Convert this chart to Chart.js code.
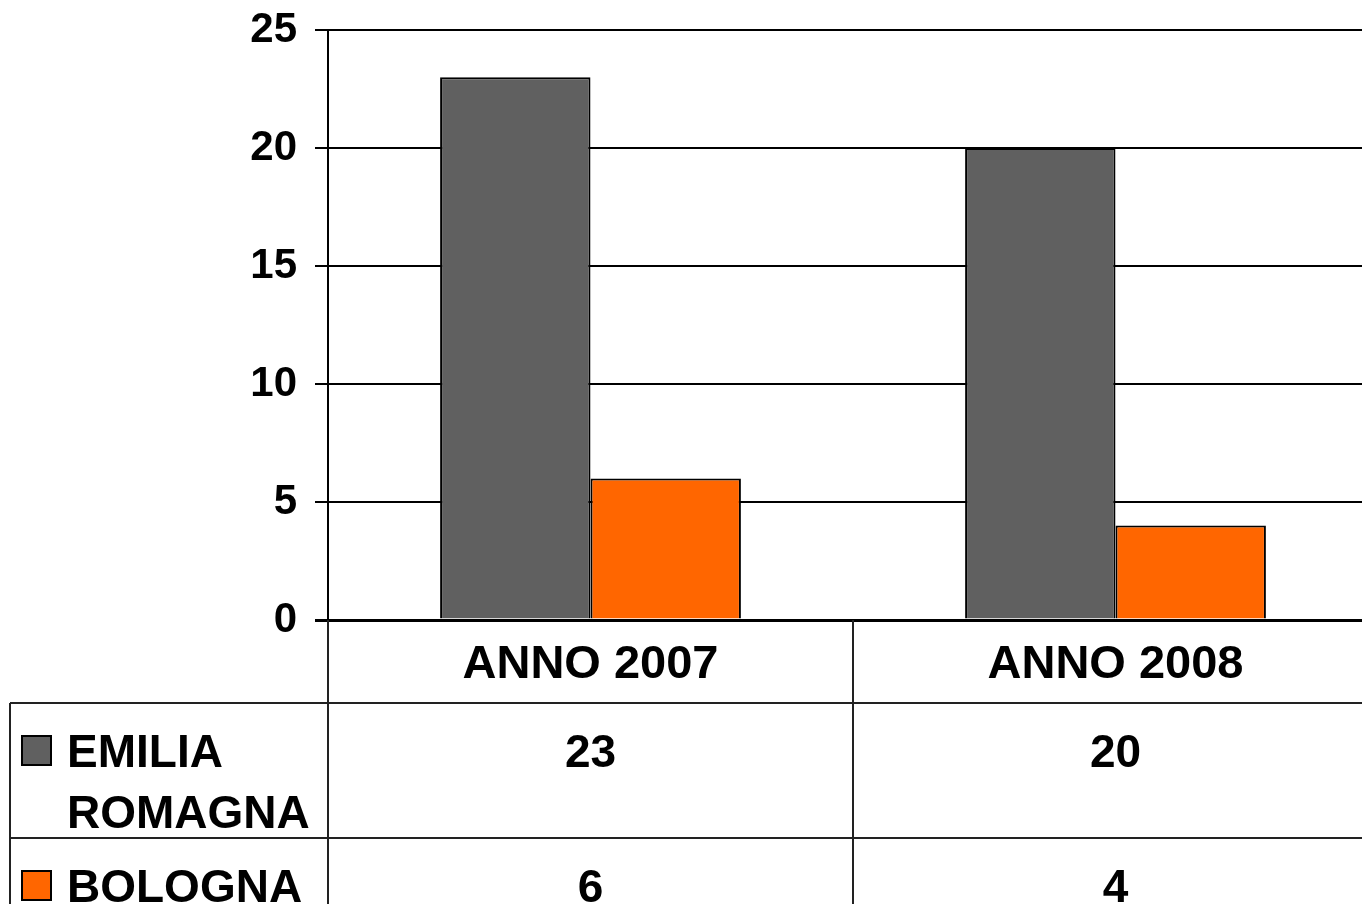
<!DOCTYPE html>
<html>
<head>
<meta charset="utf-8">
<script src="https://cdn.jsdelivr.net/npm/chart.js@4.4.1/dist/chart.umd.min.js"></script>
<style>
  html, body { margin: 0; padding: 0; background: #fff; overflow: hidden; }
  #wrap { position: absolute; left: 0; top: 0; }
</style>
</head>
<body>
<div id="wrap"><canvas id="chart" width="1380" height="904"></canvas></div>
<script>
// chart data
const categories = ['ANNO 2007', 'ANNO 2008'];
const seriesNames = ['EMILIA ROMAGNA', 'BOLOGNA'];
const emiliaRomagna = [23, 20];
const bologna = [6, 4];
const yTicks = [0, 5, 10, 15, 20, 25];

const colors = ['#606060', '#FF6600'];
const FONT = '"Liberation Sans", Arial, sans-serif';

// draws the data table under the plot, using the x scale for column positions
const dataTable = {
  id: 'dataTable',
  afterDraw(chart) {
    const { ctx, chartArea } = chart;
    const x = chart.scales.x;
    const step = x.getPixelForValue(1) - x.getPixelForValue(0);
    const edges = categories.map((c, i) => x.getPixelForValue(i) - step / 2);
    edges.push(x.getPixelForValue(categories.length - 1) + step / 2);
    const legendLeft = 10;
    const lineH = 61;
    const bottom = chart.height + 20;

    ctx.save();
    ctx.font = 'bold 47px ' + FONT;
    ctx.fillStyle = '#000';
    ctx.textAlign = 'center';
    ctx.textBaseline = 'alphabetic';

    // header row with category names
    const headTop = chartArea.bottom;
    const headH = 83;
    categories.forEach((c, i) => {
      ctx.fillText(c, x.getPixelForValue(i), headTop + 58);
    });

    ctx.font = 'bold 46px ' + FONT;
    // wrap series names to fit the legend cell
    const maxW = edges[0] - 68 - 6;
    const wrap = (text) => {
      const words = text.split(' ');
      const lines = [];
      let cur = '';
      words.forEach(w => {
        const test = cur ? cur + ' ' + w : w;
        if (cur && ctx.measureText(test).width > maxW) {
          lines.push(cur);
          cur = w;
        } else {
          cur = test;
        }
      });
      if (cur) lines.push(cur);
      return lines;
    };

    const rowLines = [];
    let top = headTop + headH;
    chart.data.datasets.forEach((ds, di) => {
      const lines = wrap(ds.label);
      const h = 74 + lineH * (lines.length - 1);
      const base = top + 64;
      rowLines.push(top);

      // legend swatch
      ctx.fillStyle = ds.backgroundColor;
      ctx.fillRect(22, base - 31, 29, 29);
      ctx.strokeStyle = '#000';
      ctx.lineWidth = 2;
      ctx.strokeRect(22, base - 31, 29, 29);

      ctx.fillStyle = '#000';
      ctx.textAlign = 'left';
      lines.forEach((l, li) => ctx.fillText(l, 67, base + li * lineH));

      ctx.textAlign = 'center';
      ds.data.forEach((v, i) => {
        ctx.fillText(String(v), x.getPixelForValue(i), base);
      });
      top += h;
    });
    rowLines.push(top);

    // grid of the table
    ctx.strokeStyle = '#222';
    ctx.lineWidth = 2;
    ctx.beginPath();
    rowLines.forEach(y => {
      ctx.moveTo(legendLeft, y);
      ctx.lineTo(edges[edges.length - 1], y);
    });
    ctx.moveTo(legendLeft, rowLines[0]);
    ctx.lineTo(legendLeft, bottom);
    edges.forEach(ex => {
      ctx.moveTo(ex, headTop);
      ctx.lineTo(ex, bottom);
    });
    ctx.stroke();
    ctx.restore();
  }
};

new Chart(document.getElementById('chart'), {
  type: 'bar',
  data: {
    labels: categories,
    datasets: [
      {
        label: seriesNames[0],
        data: emiliaRomagna,
        backgroundColor: colors[0],
        borderColor: '#000',
        borderWidth: 2
      },
      {
        label: seriesNames[1],
        data: bologna,
        backgroundColor: colors[1],
        borderColor: '#000',
        borderWidth: 2
      }
    ]
  },
  options: {
    responsive: false,
    animation: false,
    devicePixelRatio: 1,
    layout: { padding: { top: 30, right: 2, bottom: 284, left: 0 } },
    datasets: {
      bar: { categoryPercentage: 0.573, barPercentage: 1 }
    },
    scales: {
      x: {
        display: false
      },
      y: {
        min: 0,
        max: 25,
        afterFit: (scale) => {
          scale.width = 328;
          scale.paddingTop = 0;
          scale.paddingBottom = 0;
        },
        afterBuildTicks: (scale) => {
          scale.ticks = yTicks.map(v => ({ value: v }));
        },
        border: { display: true, color: '#000', width: 2 },
        grid: {
          color: '#000',
          lineWidth: (c) => (c.tick && c.tick.value === 0 ? 3 : 2),
          tickLength: 13,
          drawTicks: true
        },
        ticks: {
          color: '#000',
          padding: 18,
          font: { family: FONT, size: 42, weight: 'bold' }
        }
      }
    },
    plugins: {
      legend: { display: false },
      tooltip: { enabled: false }
    }
  },
  plugins: [dataTable]
});
</script>
</body>
</html>
